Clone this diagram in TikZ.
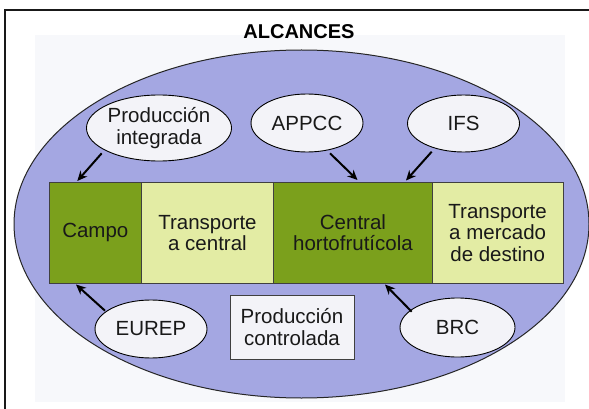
\documentclass[tikz,border=0pt]{standalone}
\usepackage{fontspec}
\setmainfont{Liberation Sans}
\usetikzlibrary{arrows.meta,shapes.geometric}
\definecolor{lav}{HTML}{A4A7E2}
\definecolor{dgreen}{HTML}{7BA01C}
\definecolor{lgreen}{HTML}{E3ECA4}
\definecolor{ovalfill}{HTML}{F3F3F8}
\definecolor{bgtint}{HTML}{F7F8FB}
\definecolor{boxline}{HTML}{404040}
\begin{document}
\begin{tikzpicture}[x=1pt,y=-1pt,
  lbl/.style={font=\fontsize{20.5}{21.5}\selectfont, align=center, text=black!90, inner sep=0pt},
  oval/.style={ellipse, draw=black, line width=0.9pt, fill=ovalfill, lbl},
  cell/.style={draw=boxline, line width=0.9pt, lbl, minimum height=101.5pt, anchor=north west},
  arr/.style={line width=2pt, -{Stealth[length=10pt,width=9pt]}}
]
\useasboundingbox (0,0) rectangle (589,409);
% frame
\fill[white] (0,0) rectangle (589,409);
\fill[bgtint] (35,35) rectangle (565,402);
\draw[line width=2pt, black!90] (5,420) -- (5,10.5) -- (600,10.5);
\node[font=\fontsize{20}{22}\selectfont\bfseries, inner sep=0pt] (title) at (299,32) {ALCANCES};
% big ellipse
\draw[fill=lav, draw=black!85, line width=1pt] (301.5,224) ellipse [x radius=287.5, y radius=174];
% cells
\node[cell, fill=dgreen, minimum width=91.7pt] (campo) at (49,181.7) {Campo};
\node[cell, fill=lgreen, minimum width=132.6pt] (tcentral) at (140.7,181.7) {Transporte\\a central};
\node[cell, fill=dgreen, minimum width=158.4pt] (central) at (273.3,181.7) {Central\\hortofrutícola};
\node[cell, fill=lgreen, minimum width=131pt] (tmercado) at (431.7,181.7) {Transporte\\a mercado\\de destino};
% ovals
\node[oval, minimum width=142pt, minimum height=66pt] (pi) at (159,128) {Producción\\integrada};
\node[oval, minimum width=112pt, minimum height=58pt] (appcc) at (307,123) {APPCC};
\node[oval, minimum width=112pt, minimum height=57pt] (ifs) at (463.5,123.5) {IFS};
\node[oval, minimum width=112pt, minimum height=58pt] (eurep) at (151,329) {EUREP};
\node[oval, minimum width=115pt, minimum height=59pt] (brc) at (457.5,327.5) {BRC};
\node[draw=boxline, line width=0.9pt, fill=ovalfill, lbl, minimum width=124pt, minimum height=64pt] (pc) at (292,327) {Producción\\controlada};
% arrows
\coordinate (s1) at (101.7,153.3); \coordinate (t1) at (77.3,181);
\coordinate (s2) at (330,153.3);   \coordinate (t2) at (357.5,180);
\coordinate (s3) at (431.7,151.7); \coordinate (t3) at (406,180.5);
\coordinate (s4) at (105,310.7);   \coordinate (t4) at (76,284.5);
\coordinate (s5) at (411.7,311.7); \coordinate (t5) at (385,284.5);
\draw[arr] (s1) -- (t1);
\draw[arr] (s2) -- (t2);
\draw[arr] (s3) -- (t3);
\draw[arr] (s4) -- (t4);
\draw[arr] (s5) -- (t5);
\end{tikzpicture}
\end{document}
